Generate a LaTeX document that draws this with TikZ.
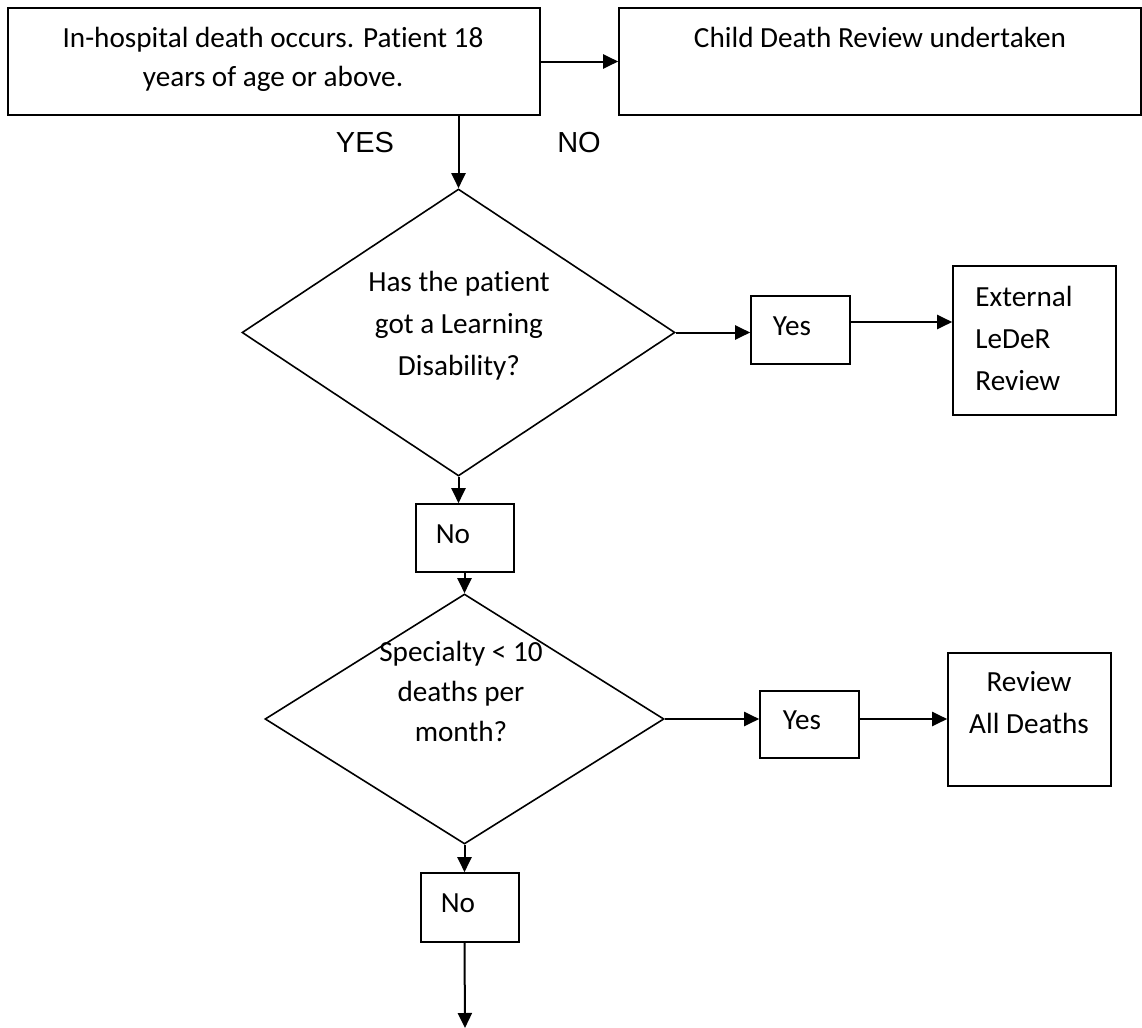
\documentclass[tikz,border=0pt]{standalone}
\usepackage{fontspec}
\setmainfont{Carlito}[Ligatures=NoCommon]
\newfontfamily\arialfont{Liberation Sans}
\usetikzlibrary{shapes.geometric,arrows.meta,calc}
\begin{document}
\begin{tikzpicture}[x=0.5pt,y=-0.5pt,
  frame/.style={draw,line width=0.8pt,inner sep=0pt,rectangle},
  decision/.style={draw,line width=0.8pt,inner sep=0pt,diamond},
  txt/.style={inner sep=0pt,align=center,font=\fontsize{14.6}{21}\selectfont},
  lbl/.style={inner sep=0pt,font=\arialfont\fontsize{14.5}{17}\selectfont},
  arr/.style={line width=1pt,-{Triangle[length=7.5pt,width=7pt]}}]
\useasboundingbox (0,0) rectangle (1142,1028);

% top boxes
\node[frame,minimum width=266pt,minimum height=53.5pt] (b1) at (274,61.5) {};
\node[txt,font=\fontsize{14.6}{19.5}\selectfont] (t1) at (273,59) {In-hospital death occurs. Patient 18\\years of age or above.};
\node[frame,minimum width=261pt,minimum height=53.5pt] (b2) at (880,61.5) {};
\node[txt] (t2) at (880,37) {Child Death Review undertaken};

\node[lbl] (yes) at (365,143) {YES};
\node[lbl] (no) at (579,143) {NO};

% first decision
\node[decision,minimum width=216.5pt,minimum height=143.5pt] (d1) at (458.5,332.5) {};
\node[txt] (t3) at (459,326) {Has the patient\\got a Learning\\Disability?};

\node[frame,minimum width=49.5pt,minimum height=34pt] (y1) at (800.5,330) {};
\node[txt] (t4) at (792,326) {Yes};
\node[frame,minimum width=81.5pt,minimum height=74.5pt] (ext) at (1034.5,340.5) {};
\node[txt,align=left,anchor=west] (t5) at (975,338) {External\\LeDeR\\Review};

\node[frame,minimum width=49pt,minimum height=34pt] (n1) at (465,538) {};
\node[txt] (t6) at (453,534) {No};

% second decision
\node[decision,minimum width=199.5pt,minimum height=125pt] (d2) at (464.5,719) {};
\node[txt,font=\fontsize{14.6}{20}\selectfont] (t7) at (461,691) {Specialty {<} 10\\deaths per\\month?};

\node[frame,minimum width=49.5pt,minimum height=33.5pt] (y2) at (809.5,724.5) {};
\node[txt] (t8) at (802,720) {Yes};
\node[frame,minimum width=81.5pt,minimum height=66.5pt] (rev) at (1029.5,719.5) {};
\node[txt] (t9) at (1029,703) {Review\\All Deaths};

\node[frame,minimum width=49pt,minimum height=34.5pt] (n2) at (470,907.5) {};
\node[txt] (t10) at (458,903) {No};

\coordinate (end) at (465,1028);

% connectors
\draw[arr] (b1.east) -- (b2.west);
\draw[arr] (d1.north |- b1.south) -- (d1.north);
\draw[arr] (d1.east) -- (d1.east -| y1.west);
\draw[arr] ([yshift=4pt]y1.east) -- ([yshift=4pt]y1.east -| ext.west);
\draw[arr] (d1.south) -- (d1.south |- n1.north);
\draw[arr] (d2.north |- n1.south) -- (d2.north);
\draw[arr] (d2.east) -- (d2.east -| y2.west);
\draw[arr] (d2.east -| y2.east) -- (d2.east -| rev.west);
\draw[arr] (d2.south) -- (d2.south |- n2.north);
\draw[arr] (d2.south |- n2.south) -- (end);
\end{tikzpicture}
\end{document}
